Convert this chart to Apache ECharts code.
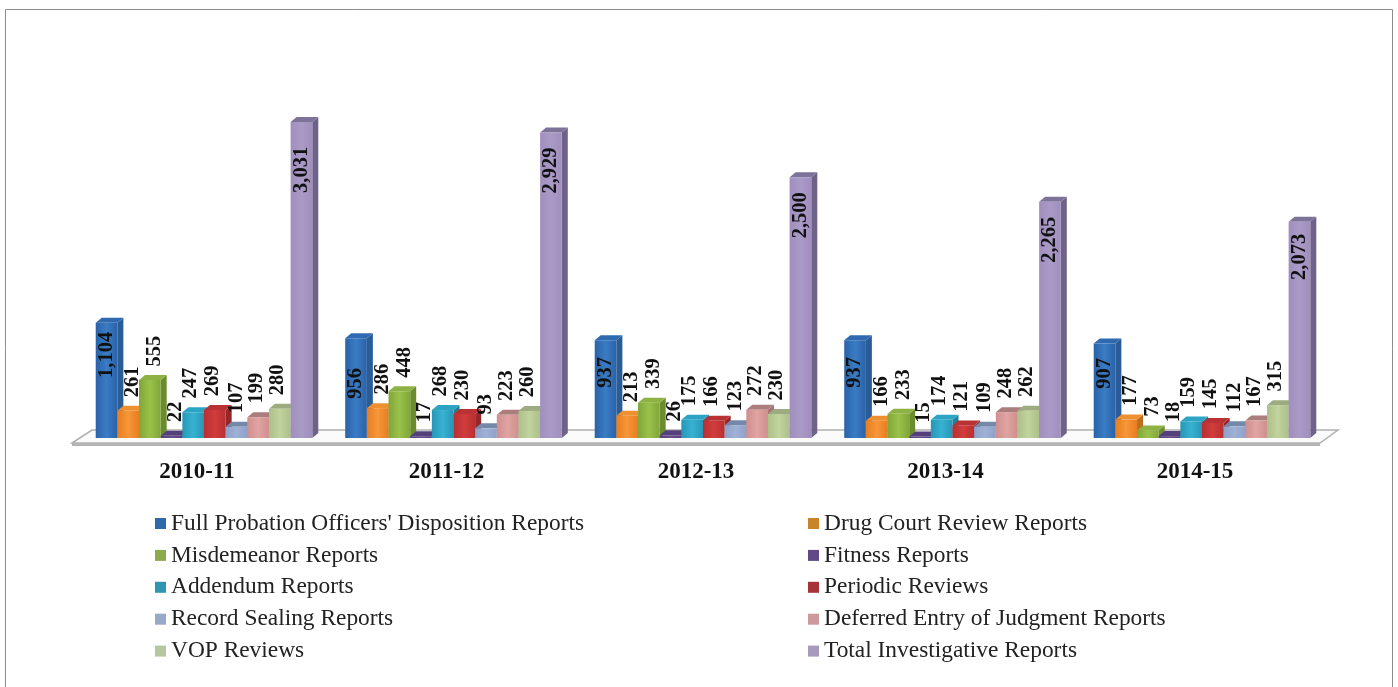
<!DOCTYPE html>
<html><head><meta charset="utf-8">
<style>html,body{margin:0;padding:0;background:#fff}#c{width:1398px;height:687px}</style>
<script src="https://cdn.jsdelivr.net/npm/echarts@6/dist/echarts.min.js"></script>
</head><body><div id="c"></div>
<script>
const categories = ['2010-11','2011-12','2012-13','2013-14','2014-15'];
const fullProbation = [1104,956,937,937,907];
const drugCourt = [261,286,213,166,177];
const misdemeanor = [555,448,339,233,73];
const fitness = [22,17,26,15,18];
const addendum = [247,268,175,174,159];
const periodic = [269,230,166,121,145];
const recordSealing = [107,93,123,109,112];
const deferredEntry = [199,223,272,248,167];
const vopReviews = [280,260,230,262,315];
const totalReports = [3031,2929,2500,2265,2073];
const seriesNames = ["Full Probation Officers' Disposition Reports",'Drug Court Review Reports','Misdemeanor Reports','Fitness Reports','Addendum Reports','Periodic Reviews','Record Sealing Reports','Deferred Entry of Judgment Reports','VOP Reviews','Total Investigative Reports'];
const seriesValues = [fullProbation,drugCourt,misdemeanor,fitness,addendum,periodic,recordSealing,deferredEntry,vopReviews,totalReports];
const frontLight = ['#3a7cc4','#f7963a','#9ac24a','#66508c','#38b2d2','#d23c3c','#a0b1d6','#e0a4a2','#c1d39e','#aa9ac6'];
const frontDark = ['#2a62a8','#e67e1f','#7fa638','#54407a','#2796b6','#b82f31','#8fa1c8','#cf8f8e','#adc089','#a08fbe'];
const sideCol = ['#2a5c96','#c06d1c','#6a8c2e','#44346a','#21809a','#962628','#6f80a2','#a87274','#8a9c6e','#6f6288'];
const topCol = ['#2f6ab0','#ee8f30','#8fb244','#54407a','#2da4c4','#b83234','#7488aa','#ab7d7c','#9cac80','#7d7399'];
const legendCol = ['#2f6aa8','#c9842a','#8eaa4e','#5f4a85','#3095ae','#a8323a','#98a8c8','#cc9a9c','#b5c6a0','#a79bbd'];
const labelShiftBySeries = [0,5,5,4,-2,-2,0,-1,-2,0];
const labelDropByValue = {3031:48,2929:38,2500:38,2265:38,2073:35,1104:32,956:45,937:32,907:30};

const BAR_FRACTION = 0.868, SHIFT_X = 7, DEPTH_X = 6, DEPTH_Y = 5;
function renderBar(si){
  return function(params, api){
    const cat = api.value(0), val = api.value(1);
    const top = api.coord([cat,val]), base = api.coord([cat,0]);
    const band = api.size([1,0])[0];
    const w = band*BAR_FRACTION/10;
    const x = top[0]+SHIFT_X+(si-5)*w, y = top[1], b = base[1];
    const drop = labelDropByValue[val];
    const labelY = drop !== undefined ? y+drop : y-(val<100?24:29);
    const labelX = x+w/2+labelShiftBySeries[si];
    return {type:'group',children:[
      {type:'polygon',shape:{points:[[x+w,y],[x+w+DEPTH_X,y-DEPTH_Y],[x+w+DEPTH_X,b-DEPTH_Y],[x+w,b]]},style:{fill:sideCol[si]}},
      {type:'polygon',shape:{points:[[x,y],[x+DEPTH_X,y-DEPTH_Y],[x+w+DEPTH_X,y-DEPTH_Y],[x+w,y]]},style:{fill:topCol[si]}},
      {type:'rect',shape:{x:x,y:y,width:w,height:b-y},style:{fill:new echarts.graphic.LinearGradient(0,0,1,0,[{offset:0,color:frontDark[si]},{offset:.5,color:frontLight[si]},{offset:1,color:frontDark[si]}])}},
      {type:'text',x:labelX,y:labelY,rotation:Math.PI/2,z2:100,style:{text:val.toLocaleString('en-US'),align:'center',verticalAlign:'middle',font:'bold 20.5px "Liberation Serif"',fill:'#111'}}
    ]};
  };
}
const series = seriesNames.map((name,si)=>({
  name,type:'custom',renderItem:renderBar(si),itemStyle:{color:frontLight[si]},
  data:seriesValues[si].map((v,i)=>[i,v]),encode:{x:0,y:1},clip:false
}));
const legendItems = seriesNames.map((name,i)=>({name,itemStyle:{color:legendCol[i]}}));
const legendBase = {orient:'vertical',top:507,itemWidth:11,itemHeight:11,itemGap:8.9,icon:'rect',selectedMode:false,
  textStyle:{fontFamily:'Liberation Serif',fontSize:23.4,color:'#222',padding:[0,0,0,0],lineHeight:20}};
const chart = echarts.init(document.getElementById('c'),null,{renderer:'canvas'});
chart.setOption({
  animation:false,backgroundColor:'#fff',
  grid:{left:72.25,width:1247.5,top:73,height:365},
  xAxis:{type:'category',data:categories,axisLine:{show:false},axisTick:{show:false},
    axisLabel:{margin:23,fontFamily:'Liberation Serif',fontWeight:'bold',fontSize:23,color:'#111'}},
  yAxis:{type:'value',min:0,max:3500,show:false},
  legend:[
    Object.assign({},legendBase,{left:150,data:legendItems.filter((n,i)=>i%2===0)}),
    Object.assign({},legendBase,{left:803,data:legendItems.filter((n,i)=>i%2===1)})
  ],
  graphic:[
    {type:'rect',z:0,shape:{x:5.5,y:9.5,width:1387,height:690},style:{fill:'#fff',stroke:'#8c8c8c',lineWidth:1}},
    {type:'polygon',z:1,shape:{points:[[72,443],[92,430],[1338,430],[1320,443]]},style:{fill:'#fbfbfb',stroke:'#b0b0b0',lineWidth:1.5}},
    {type:'polygon',z:1,shape:{points:[[72,443],[1320,443],[1320,446],[72,446]]},style:{fill:'#b4b4b4'}}
  ],
  series
});
</script></body></html>
